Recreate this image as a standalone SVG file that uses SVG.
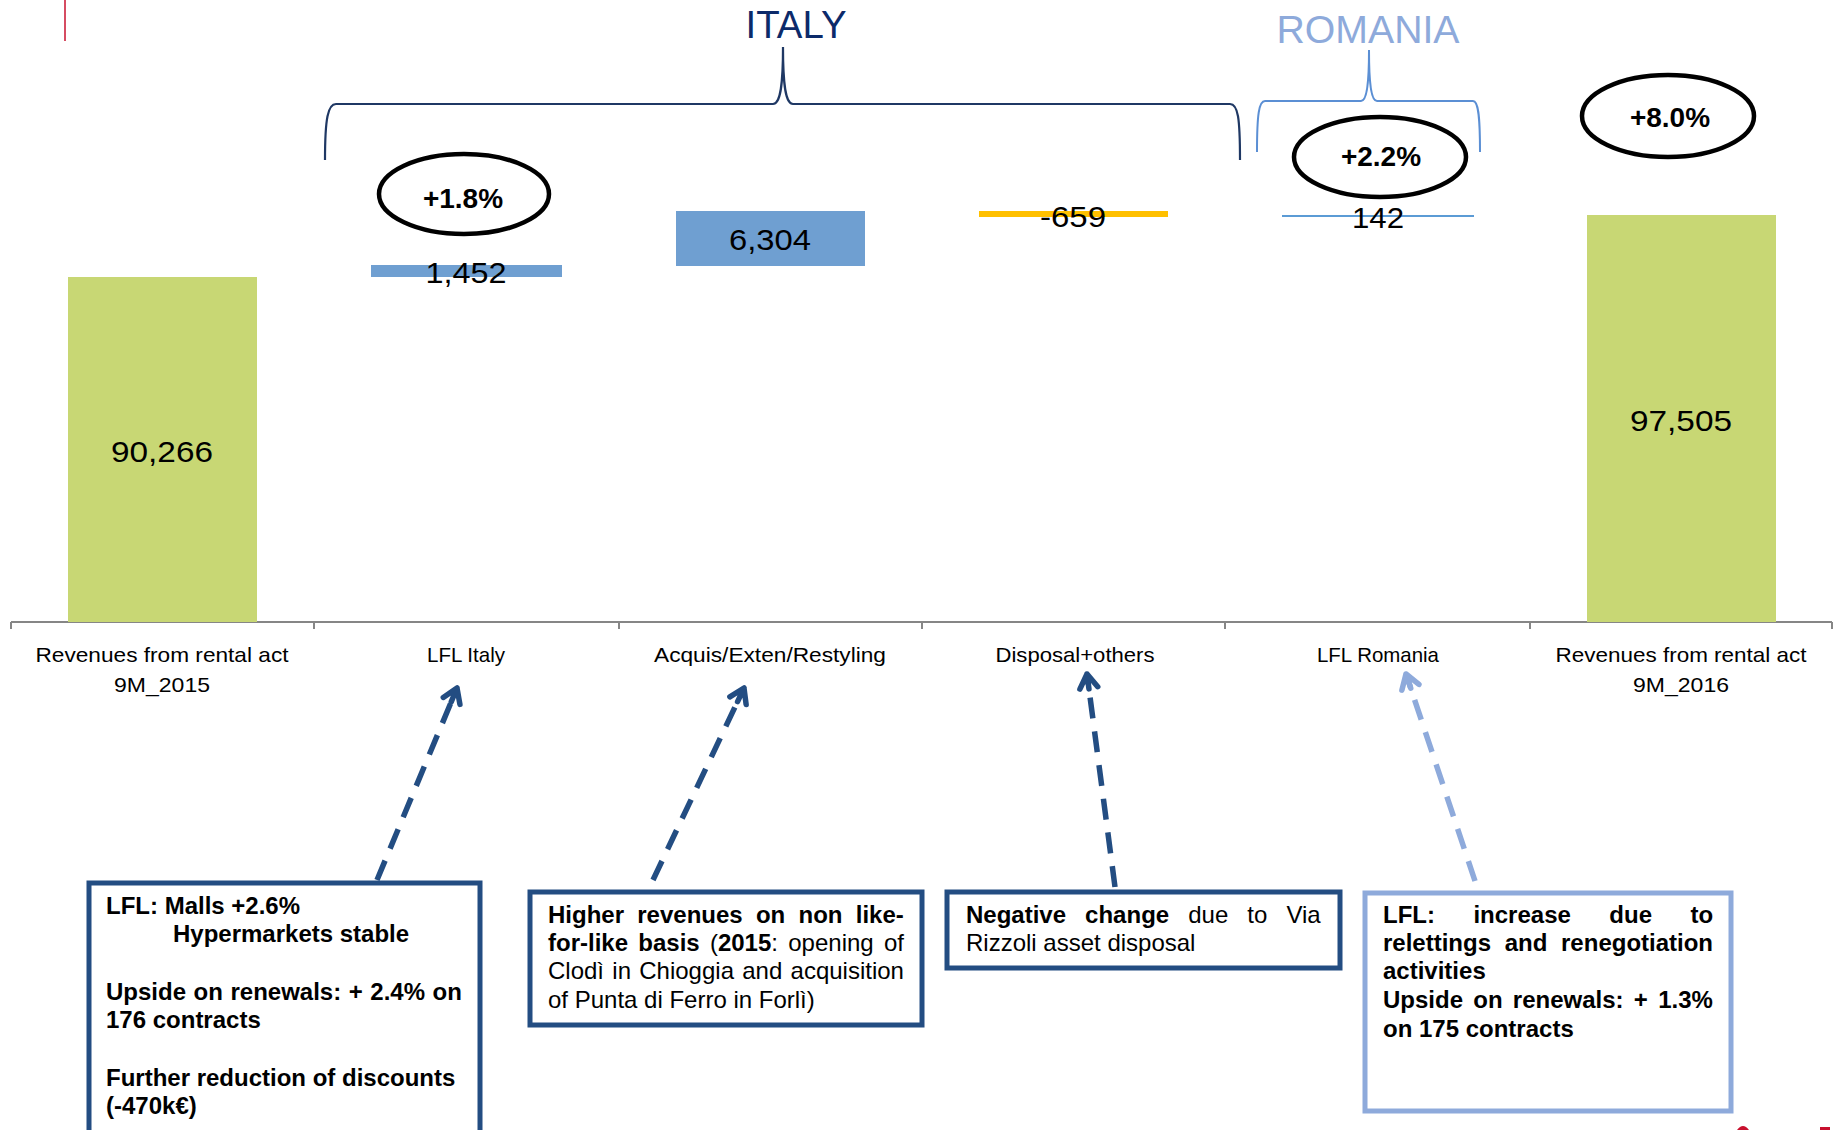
<svg xmlns="http://www.w3.org/2000/svg" width="1839" height="1130" viewBox="0 0 1839 1130">
<style>
.bar-g{fill:#c8d774}
.bar-b{fill:#6f9fd1}
.num{font-family:"Liberation Sans",Arial,sans-serif;font-size:30px;fill:#000;text-anchor:middle}
.cat{font-family:"Liberation Sans",Arial,sans-serif;font-size:21px;fill:#000;text-anchor:middle}
.pct{font-family:"Liberation Sans",Arial,sans-serif;font-size:28px;font-weight:bold;fill:#000;text-anchor:middle}
.ell{fill:#fff;stroke:#000;stroke-width:4.5}
.box{fill:#fff;stroke:#234d82;stroke-width:5}
.box-l{fill:#fff;stroke:#8eaadb;stroke-width:5}
.bt{font-family:"Liberation Sans",Arial,sans-serif;font-size:24px;fill:#000}
.b{font-weight:bold}
.arr{fill:none;stroke:#234d82;stroke-width:5.5;stroke-dasharray:21 13}
.arr-l{fill:none;stroke:#8eaadb;stroke-width:5.5;stroke-dasharray:21 13}
.title{font-family:"Liberation Sans",Arial,sans-serif;font-size:38px;text-anchor:middle}
</style>
<defs>
<marker id="ah" markerUnits="userSpaceOnUse" markerWidth="40" markerHeight="40" refX="20" refY="20" orient="auto">
<path d="M6,11 L20,20 L6,29 M5,20 L20,20" fill="none" stroke="#234d82" stroke-width="5.5" stroke-linecap="round" stroke-linejoin="round"/>
</marker>
<marker id="ah-l" markerUnits="userSpaceOnUse" markerWidth="40" markerHeight="40" refX="20" refY="20" orient="auto">
<path d="M6,11 L20,20 L6,29 M5,20 L20,20" fill="none" stroke="#8eaadb" stroke-width="5.5" stroke-linecap="round" stroke-linejoin="round"/>
</marker>
</defs>
<rect width="1839" height="1130" fill="#fff"/>
<line x1="65" y1="0" x2="65" y2="41" stroke="#c8102e" stroke-width="1.5"/>

<g id="italy-group">
<path d="M325,160 C325,118 328,104 336,104 L773,104 C780,104 783,88 783,47 C783,88 786,104 793,104 L1230,104 C1238,104 1240,118 1240,160" fill="none" stroke="#1f3864" stroke-width="2.2"/>
<text class="title" x="796" y="38" fill="#0c2a6a" textLength="101" lengthAdjust="spacingAndGlyphs">ITALY</text>
</g>
<g id="romania-group">
<path d="M1257,152 C1257,114 1259,101 1265,101 L1361,101 C1366,101 1369,88 1369,50 C1369,88 1372,101 1377,101 L1473,101 C1478,101 1480,114 1480,152" fill="none" stroke="#5b8fd4" stroke-width="2"/>
<text class="title" x="1368" y="43" fill="#8eaadb" textLength="183" lengthAdjust="spacingAndGlyphs">ROMANIA</text>
</g>

<g id="axis">
<path d="M11,622 H1832 M11,622 V629 M314,622 V629 M619,622 V629 M922,622 V629 M1225,622 V629 M1530,622 V629 M1832,622 V629" fill="none" stroke="#868686" stroke-width="2"/>
</g>

<g id="bar-2015">
<rect class="bar-g" x="68" y="277" width="189" height="345"/>
<text class="num" x="162" y="462" textLength="102" lengthAdjust="spacingAndGlyphs">90,266</text>
<text class="cat" x="162" y="662" textLength="253" lengthAdjust="spacingAndGlyphs">Revenues from rental act</text>
<text class="cat" x="162" y="692" textLength="96" lengthAdjust="spacingAndGlyphs">9M_2015</text>
</g>
<g id="bar-lfl-italy">
<rect class="bar-b" x="371" y="265" width="191" height="12"/>
<text class="num" x="466" y="283" textLength="81" lengthAdjust="spacingAndGlyphs">1,452</text>
<text class="cat" x="466" y="662" textLength="78" lengthAdjust="spacingAndGlyphs">LFL Italy</text>
</g>
<g id="pct-italy">
<ellipse class="ell" cx="464" cy="194" rx="85" ry="40"/>
<text class="pct" x="463" y="208">+1.8%</text>
</g>
<g id="bar-acquis">
<rect class="bar-b" x="676" y="211" width="189" height="55"/>
<text class="num" x="770" y="250" textLength="82" lengthAdjust="spacingAndGlyphs">6,304</text>
<text class="cat" x="770" y="662" textLength="232" lengthAdjust="spacingAndGlyphs">Acquis/Exten/Restyling</text>
</g>
<g id="bar-disposal">
<rect x="979" y="211" width="189" height="6" fill="#ffc000"/>
<text class="num" x="1073" y="227" textLength="66" lengthAdjust="spacingAndGlyphs">-659</text>
<text class="cat" x="1075" y="662" textLength="159" lengthAdjust="spacingAndGlyphs">Disposal+others</text>
</g>
<g id="bar-lfl-romania">
<rect x="1282" y="215" width="192" height="2" fill="#5b9bd5"/>
<text class="num" x="1378" y="228" textLength="52" lengthAdjust="spacingAndGlyphs">142</text>
<text class="cat" x="1378" y="662" textLength="122" lengthAdjust="spacingAndGlyphs">LFL Romania</text>
</g>
<g id="pct-romania">
<ellipse class="ell" cx="1380" cy="157" rx="86" ry="40"/>
<text class="pct" x="1381" y="166">+2.2%</text>
</g>
<g id="bar-2016">
<rect class="bar-g" x="1587" y="215" width="189" height="407"/>
<text class="num" x="1681" y="431" textLength="102" lengthAdjust="spacingAndGlyphs">97,505</text>
<text class="cat" x="1681" y="662" textLength="251" lengthAdjust="spacingAndGlyphs">Revenues from rental act</text>
<text class="cat" x="1681" y="692" textLength="96" lengthAdjust="spacingAndGlyphs">9M_2016</text>
</g>
<g id="pct-total">
<ellipse class="ell" cx="1668" cy="116" rx="86" ry="41"/>
<text class="pct" x="1670" y="127">+8.0%</text>
</g>

<g id="connectors">
<path class="arr" d="M377,880 L457,688" marker-end="url(#ah)"/>
<path class="arr" d="M653,880 L744,688" marker-end="url(#ah)"/>
<path class="arr" d="M1115,887 L1087,674" marker-end="url(#ah)"/>
<path class="arr-l" d="M1475,881 L1406,674" marker-end="url(#ah-l)"/>
</g>

<g id="note-lfl-italy">
<rect class="box" x="89" y="883" width="391" height="260"/>
<text class="bt b" x="106" y="914">LFL: Malls +2.6%</text>
<text class="bt b" x="173" y="942">Hypermarkets stable</text>
<text class="bt b" x="106" y="1000" word-spacing="0.9">Upside on renewals: + 2.4% on</text>
<text class="bt b" x="106" y="1028">176 contracts</text>
<text class="bt b" x="106" y="1086">Further reduction of discounts</text>
<text class="bt b" x="106" y="1114">(-470k€)</text>
</g>

<g id="note-acquis">
<rect class="box" x="530" y="892" width="392" height="133"/>
<text class="bt b" x="548" y="923" word-spacing="6.6">Higher revenues on non like-</text>
<text class="bt" x="548" y="951" word-spacing="3.6"><tspan class="b">for-like basis</tspan> (<tspan class="b">2015</tspan>: opening of</text>
<text class="bt" x="548" y="979" word-spacing="1.6">Clodì in Chioggia and acquisition</text>
<text class="bt" x="548" y="1008">of Punta di Ferro in Forlì)</text>
</g>

<g id="note-disposal">
<rect class="box" x="947" y="892" width="393" height="76"/>
<text class="bt" x="966" y="923" word-spacing="12.4"><tspan class="b">Negative change</tspan> due to Via</text>
<text class="bt" x="966" y="951">Rizzoli asset disposal</text>
</g>

<g id="note-lfl-romania">
<rect class="box-l" x="1365" y="893" width="366" height="218"/>
<text class="bt b" x="1383" y="923" word-spacing="31.8">LFL: increase due to</text>
<text class="bt b" x="1383" y="951" word-spacing="7">relettings and renegotiation</text>
<text class="bt b" x="1383" y="979">activities</text>
<text class="bt b" x="1383" y="1008" word-spacing="3.6">Upside on renewals: + 1.3%</text>
<text class="bt b" x="1383" y="1037">on 175 contracts</text>
</g>

<path d="M1737,1130 Q1743,1122 1749,1130 Z" fill="#c8102e"/>
<rect x="1820" y="1127" width="10" height="3" fill="#c8102e"/>
</svg>
